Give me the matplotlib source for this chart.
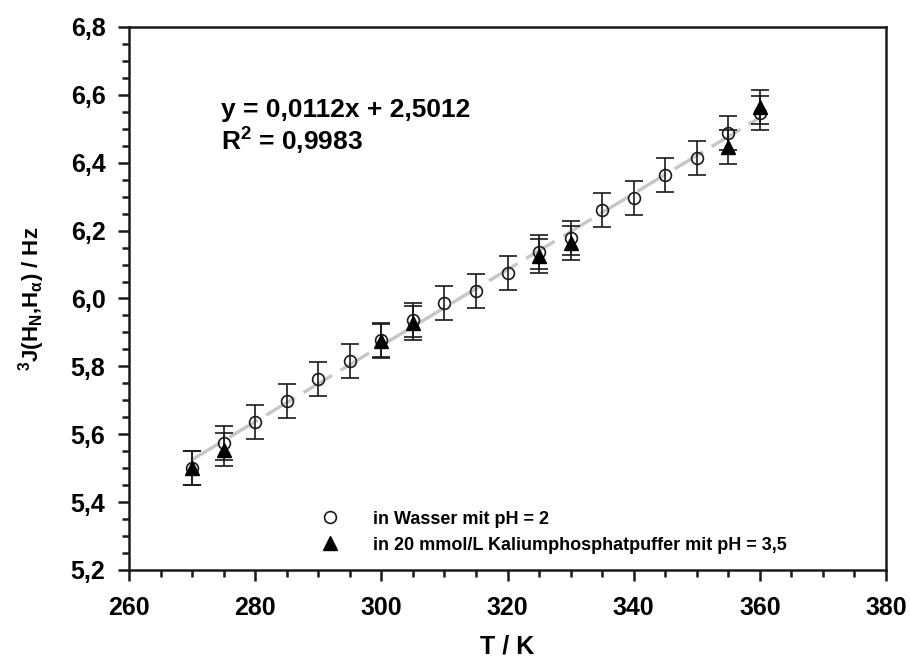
import matplotlib
matplotlib.use("Agg")
import matplotlib.pyplot as plt
from matplotlib.ticker import MultipleLocator, FuncFormatter

plt.rcParams['font.family'] = ['Liberation Sans', 'DejaVu Sans']
plt.rcParams['font.weight'] = 'bold'
plt.rcParams['mathtext.fontset'] = 'custom'
plt.rcParams['mathtext.rm'] = 'Liberation Sans:bold'
plt.rcParams['mathtext.it'] = 'Liberation Sans:bold'
plt.rcParams['mathtext.bf'] = 'Liberation Sans:bold'
plt.rcParams['mathtext.sf'] = 'Liberation Sans:bold'

# in Wasser mit pH = 2
t_water = [270, 275, 280, 285, 290, 295, 300, 305, 310, 315,
           320, 325, 330, 335, 340, 345, 350, 355, 360]
j_water = [5.50, 5.575, 5.637, 5.699, 5.763, 5.817, 5.878, 5.937, 5.986, 6.023,
           6.074, 6.138, 6.177, 6.261, 6.295, 6.364, 6.415, 6.487, 6.546]
err_water = [0.05] * len(t_water)

# in 20 mmol/L Kaliumphosphatpuffer mit pH = 3,5
t_buffer = [270, 275, 300, 305, 325, 330, 355, 360]
j_buffer = [5.50, 5.555, 5.875, 5.928, 6.125, 6.164, 6.447, 6.565]
err_buffer = [0.05] * len(t_buffer)

# linear fit drawn as endpoints
fit_t = [270, 360]
fit_j = [5.525, 6.533]

label_water = 'in Wasser mit pH = 2'
label_buffer = 'in 20 mmol/L Kaliumphosphatpuffer mit pH = 3,5'
eq_text = 'y = 0,0112x + 2,5012\nR$^2$ = 0,9983'

fig = plt.figure(figsize=(9.1, 6.63), dpi=100)
ax = fig.add_axes([0.1418, 0.1403, 0.9736 - 0.1418, 0.9593 - 0.1403])

ax.plot(fit_t, fit_j, color='#c4c6cc', lw=2.4, dashes=(10, 3), zorder=1)

ax.errorbar(t_water, j_water, yerr=err_water, fmt='o', ms=8.5, mfc='none',
            mec='#1a1a1a', mew=1.2, ecolor='#1a1a1a', elinewidth=1.2,
            capsize=6.5, capthick=1.2, zorder=2)
ax.errorbar(t_buffer, j_buffer, yerr=err_buffer, fmt='^', ms=9.5, mfc='black',
            mec='black', ecolor='#1a1a1a', elinewidth=1.2,
            capsize=6.5, capthick=1.2, zorder=3)

# legend entries
h1, = ax.plot([], [], 'o', ms=8.5, mfc='none', mec='#1a1a1a', mew=1.2)
h2, = ax.plot([], [], '^', ms=9.5, mfc='black', mec='black')
leg = ax.legend([h1, h2], [label_water, label_buffer], frameon=False,
                loc='lower left', bbox_to_anchor=(0.22, 0.0),
                prop={'size': 13, 'weight': 'bold'}, handletextpad=1.4,
                labelspacing=0.5)

ax.text(274.5, 6.505, eq_text, fontsize=19, fontweight='bold',
        va='center', ha='left', linespacing=1.15)

ax.set_xlim(260, 380)
ax.set_ylim(5.2, 6.8)
ax.xaxis.set_major_locator(MultipleLocator(20))
ax.xaxis.set_minor_locator(MultipleLocator(5))
ax.yaxis.set_major_locator(MultipleLocator(0.2))
ax.yaxis.set_minor_locator(MultipleLocator(0.05))
ax.yaxis.set_major_formatter(FuncFormatter(lambda v, p: f'{v:.1f}'.replace('.', ',')))

ax.tick_params(which='major', direction='out', length=8, width=1.8,
               labelsize=18, color='#1a1a1a')
ax.tick_params(which='minor', direction='out', length=5, width=1.8, color='#1a1a1a')
ax.tick_params(axis='x', pad=11)
ax.tick_params(axis='y', pad=9)
for s in ax.spines.values():
    s.set_linewidth(1.8)
    s.set_color('#1a1a1a')

ax.set_xlabel('T / K', fontsize=18, fontweight='bold', labelpad=10)
ax.set_ylabel(r'$^3$J(H$_{\mathrm{N}}$,H$_{\alpha}$) / Hz', fontsize=16,
              fontweight='bold', labelpad=17)

fig.savefig('out.png', dpi=100)
